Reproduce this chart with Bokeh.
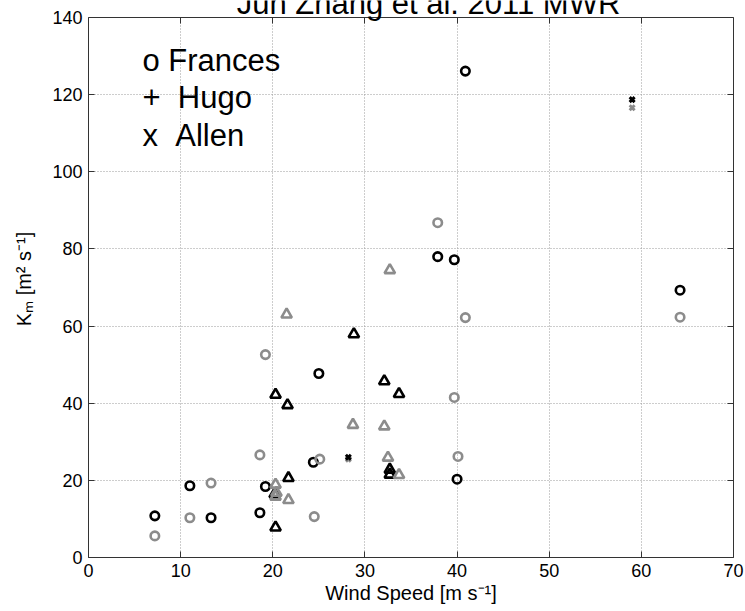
from bokeh.plotting import figure
from bokeh.models import LinearAxis, Label, FixedTicker, Range1d, BoxAnnotation
from bokeh.embed import file_html
from bokeh.resources import INLINE

# ---------------- data ----------------
# Frances (circles)
frances_black_x = [7.2, 11.0, 13.3, 18.6, 19.2, 24.4, 25.0, 37.9, 39.7, 40.0, 40.9, 64.2]
frances_black_y = [10.8, 18.6, 10.3, 11.6, 18.4, 24.7, 47.7, 78.0, 77.2, 20.3, 126.1, 69.3]
frances_gray_x = [7.2, 11.0, 13.3, 18.6, 19.2, 24.5, 25.1, 37.9, 39.7, 40.1, 40.9, 64.2]
frances_gray_y = [5.6, 10.3, 19.3, 26.6, 52.6, 10.6, 25.5, 86.8, 41.5, 26.2, 62.2, 62.3]

# Hugo (triangles)
hugo_black_x = [20.3, 20.2, 20.3, 21.6, 21.7, 28.8, 32.1, 32.7, 32.7, 33.7]
hugo_black_y = [42.2, 16.4, 7.8, 39.5, 20.6, 57.9, 45.7, 22.8, 21.5, 42.4]
hugo_gray_x = [20.3, 20.3, 20.4, 21.5, 21.7, 28.7, 32.1, 32.7, 32.5, 33.7]
hugo_gray_y = [18.9, 15.8, 16.8, 63.0, 14.9, 34.4, 34.0, 74.5, 25.9, 21.4]

# Allen (x marks)
allen_black_x = [28.2, 59.0]
allen_black_y = [26.0, 118.7]
allen_gray_x = [28.2, 59.0]
allen_gray_y = [25.5, 116.6]

x_ticks = [0, 10, 20, 30, 40, 50, 60, 70]
y_ticks = [0, 20, 40, 60, 80, 100, 120, 140]

title_text = "Jun Zhang et al. 2011 MWR"
legend_lines = ["o Frances", "+ \u00a0Hugo", "x \u00a0Allen"]
x_label = "Wind Speed [m s\u207b\u00b9]"
y_label = "K\u2098 [m\u00b2 s\u207b\u00b9]"

# ---------------- layout ----------------
W, H = 745, 611
L, R, B = 88, 12, 54
TOP_GAP = 17                      # pixels between canvas top and the y=140 line
FRAME_H = H - B                   # frame reaches the canvas top
PX_PER_Y = (FRAME_H - TOP_GAP) / 140.0
Y_TOP = 140 + TOP_GAP / PX_PER_Y
FONT = "Liberation Sans"
BLACK = "#000000"
GRAY = "#8c8c8c"
AXC = "#333333"


def sx(px):
    return px - L


def sy(py):
    return (H - B) - py


p = figure(width=W, height=H, x_range=Range1d(0, 70), y_range=Range1d(0, Y_TOP),
           output_backend="svg", toolbar_location=None,
           min_border_left=L, min_border_right=R, min_border_top=0, min_border_bottom=B)
p.background_fill_color = "white"
p.border_fill_color = "white"
p.outline_line_color = None

for g, ticks in ((p.xgrid, x_ticks), (p.ygrid, y_ticks)):
    g.ticker = FixedTicker(ticks=ticks)
    g.grid_line_color = "#9a9a9a"
    g.grid_line_dash = "1 2"
    g.grid_line_width = 1

# white cover over the band above the axes box
p.add_layout(BoxAnnotation(bottom=140, fill_color="white", fill_alpha=1.0,
                           line_color=None, level="underlay"))

xa = p.xaxis[0]
ya = p.yaxis[0]
for ax, ticks in ((xa, x_ticks), (ya, y_ticks)):
    ax.ticker = FixedTicker(ticks=ticks)
    ax.major_tick_in = 6
    ax.major_tick_out = 0
    ax.minor_tick_in = 0
    ax.minor_tick_out = 0
    ax.axis_line_color = AXC
    ax.major_tick_line_color = AXC
    ax.major_label_text_font = FONT
    ax.major_label_text_font_size = "18px"
    ax.major_label_text_color = "black"
    ax.axis_label_text_font = FONT
    ax.axis_label_text_font_size = "20px"
    ax.axis_label_text_font_style = "normal"
    ax.axis_label_text_color = "black"
xa.major_label_standoff = 6
ya.major_label_standoff = 6
ya.bounds = (0, 140)
xa.axis_label = x_label
xa.axis_label_standoff = 2
ya.axis_label = y_label
ya.axis_label_standoff = 14

top = LinearAxis(ticker=FixedTicker(ticks=x_ticks), fixed_location=140,
                 major_label_overrides={t: "" for t in x_ticks})
right = LinearAxis(ticker=FixedTicker(ticks=y_ticks), bounds=(0, 140),
                   major_label_overrides={t: "" for t in y_ticks})
for ax in (top, right):
    ax.major_tick_in = 6
    ax.major_tick_out = 0
    ax.minor_tick_in = 0
    ax.minor_tick_out = 0
    ax.axis_line_color = AXC
    ax.major_tick_line_color = AXC
    ax.major_label_text_font_size = "0px"
    ax.major_label_standoff = 0
p.add_layout(top, "above")
p.add_layout(right, "right")

# ---------------- markers ----------------
p.scatter(frances_black_x, frances_black_y, marker="circle", size=8.5, fill_color=None,
          line_color=BLACK, line_width=2.6)
p.scatter(hugo_black_x, hugo_black_y, marker="triangle", size=10.5, fill_color=None,
          line_color=BLACK, line_width=2.6)
p.scatter(frances_gray_x, frances_gray_y, marker="circle", size=8.5, fill_color=None,
          line_color=GRAY, line_width=2.6)
p.scatter(hugo_gray_x, hugo_gray_y, marker="triangle", size=10.5, fill_color=None,
          line_color=GRAY, line_width=2.6)
p.scatter(allen_gray_x, allen_gray_y, marker="x", size=7, line_color=GRAY, line_width=3)
p.scatter(allen_black_x, allen_black_y, marker="x", size=7, line_color=BLACK, line_width=3)


def add_label(px, py_mid, text, size, align="left"):
    p.add_layout(Label(x=sx(px), y=sy(py_mid), x_units="screen", y_units="screen",
                       text=text, text_align=align, text_baseline="middle",
                       text_font=FONT, text_font_size=f"{size}px", text_color="black"))


add_label(428, 3, title_text, 31, align="center")
for txt, mid in zip(legend_lines, [60, 97, 135]):
    add_label(142, mid, txt, 31)

open("out.html", "w").write(file_html(p, INLINE))
